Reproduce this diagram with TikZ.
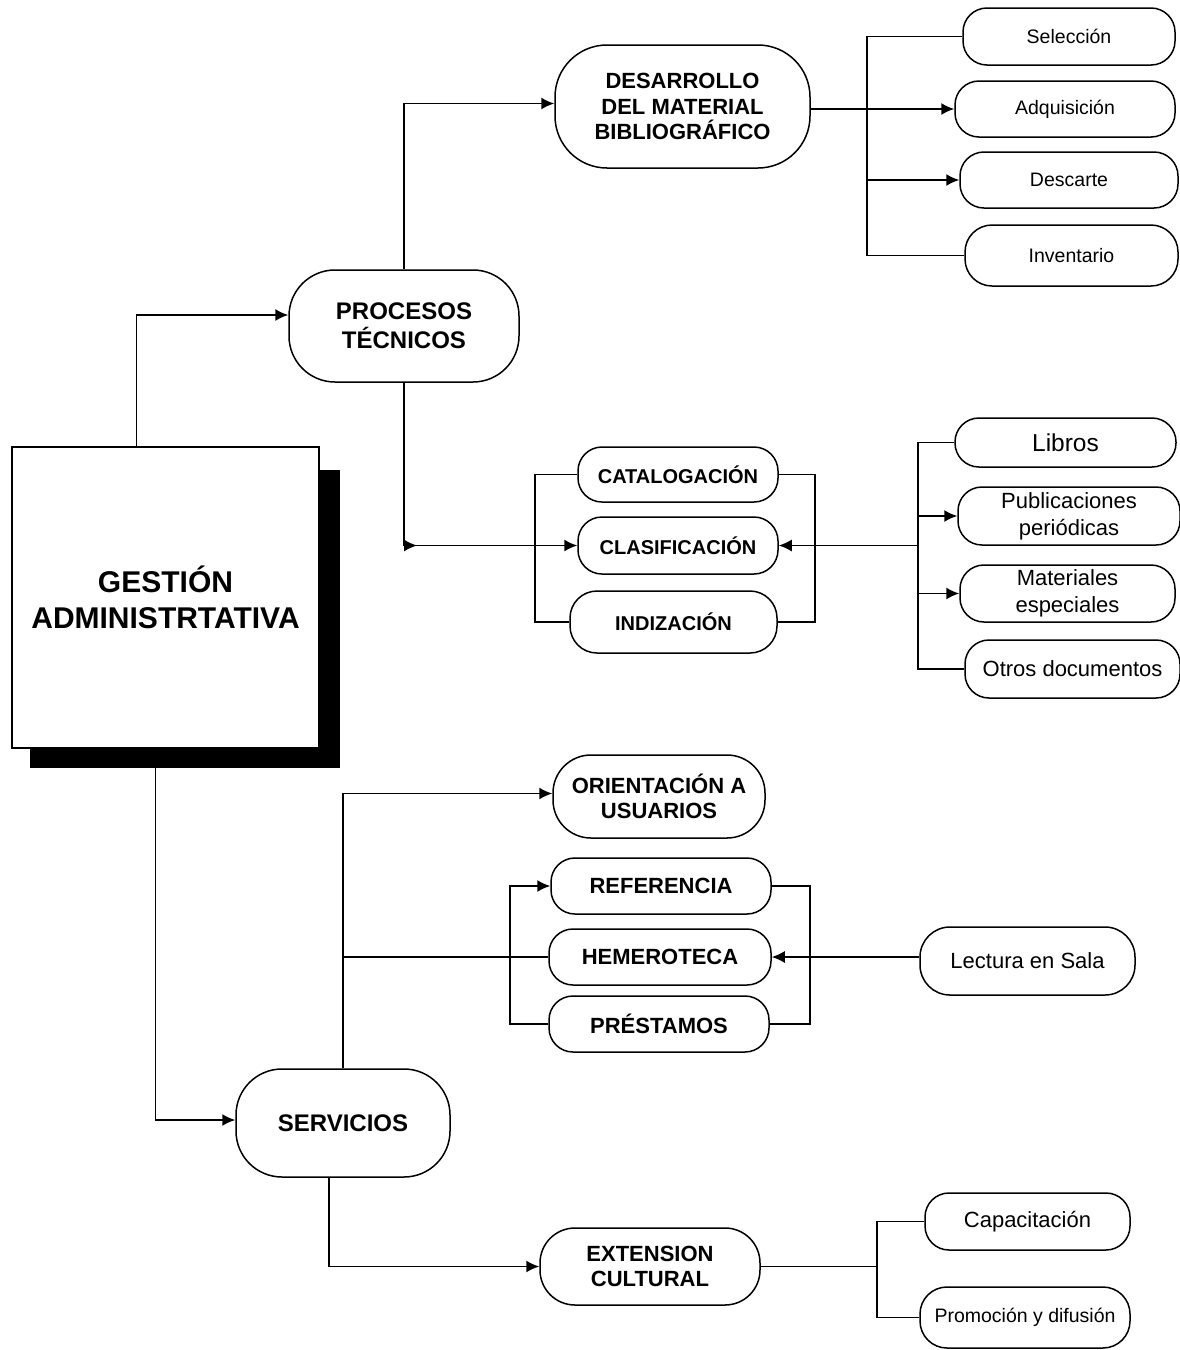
\documentclass[tikz,border=0pt]{standalone}
\usepackage{fontspec}
\setmainfont{Liberation Sans}
\usetikzlibrary{arrows.meta,calc}
\begin{document}
\begin{tikzpicture}[x=1pt,y=-1pt,
  line width=1.5pt,
  arr/.style={-{Latex[length=13pt,width=12pt]}},
  pill/.style={draw,line width=1.5pt,align=center,inner sep=0pt,rounded corners=24pt},
  bigpill/.style={pill,rounded corners=46pt},
  fB24/.style={font=\bfseries\fontsize{24}{29}\selectfont},
  fB22/.style={font=\bfseries\fontsize{22}{25.5}\selectfont},
  fB20/.style={font=\bfseries\fontsize{20}{24}\selectfont},
  fR19/.style={font=\fontsize{19.5}{24}\selectfont},
  fR22/.style={font=\fontsize{22}{27}\selectfont}
]
\useasboundingbox (0,0) rectangle (1180,1350);
% shadow and main box
\fill[black] (30,470) rectangle (340,768);
\node[draw,fill=white,line width=2.8pt,minimum width=307pt,minimum height=301pt,inner sep=0pt,align=center,
  font=\bfseries\fontsize{30}{36}\selectfont] (gestion) at (165.5,597.5) {GESTIÓN\\ADMINISTRTATIVA};

% top branch
\node[bigpill,fB24,minimum width=230pt,minimum height=112pt] (proc) at (404,326) {PROCESOS\\TÉCNICOS};
\node[bigpill,rounded corners=52pt,fB22,minimum width=255pt,minimum height=123pt] (desa) at (682.5,106.5) {DESARROLLO\\DEL MATERIAL\\BIBLIOGRÁFICO};
\node[pill,fR19,minimum width=212pt,minimum height=57pt] (sel) at (1069,36.5) {Selección};
\node[pill,fR19,minimum width=220pt,minimum height=56pt] (adq) at (1065,109) {Adquisición};
\node[pill,fR19,minimum width=218pt,minimum height=56pt] (des) at (1069,180) {Descarte};
\node[pill,fR19,minimum width=213pt,minimum height=61pt,rounded corners=27pt] (inv) at (1071.5,255.5) {Inventario};

\node[pill,fB20,minimum width=200pt,minimum height=55pt] (cat) at (678,474.5) {CATALOGACIÓN};
\node[pill,fB20,minimum width=200pt,minimum height=57pt] (cla) at (678,545.5) {CLASIFICACIÓN};
\node[pill,fB20,minimum width=207pt,minimum height=62pt,rounded corners=27pt] (ind) at (673.5,622) {INDIZACIÓN};

\node[pill,font=\fontsize{24.5}{28}\selectfont,minimum width=221pt,minimum height=49pt] (lib) at (1065.5,442.5) {Libros};
\node[pill,fR22,minimum width=222pt,minimum height=58pt] (pub) at (1069,516) {Publicaciones\\periódicas};
\node[pill,fR22,minimum width=215pt,minimum height=57pt] (mat) at (1067.5,593.5) {Materiales\\especiales};
\node[pill,fR22,minimum width=215pt,minimum height=58pt] (otr) at (1072.5,669) {Otros documentos};

% bottom branch
\node[bigpill,fB24,minimum width=214pt,minimum height=108pt] (serv) at (343,1123) {SERVICIOS};
\node[pill,rounded corners=38pt,fB22,minimum width=212pt,minimum height=83pt] (ori) at (659,796.5) {ORIENTACIÓN A\\USUARIOS};
\node[pill,fB22,minimum width=220pt,minimum height=56pt] (ref) at (661,886) {REFERENCIA};
\node[pill,fB22,minimum width=222pt,minimum height=56pt] (hem) at (660,957) {HEMEROTECA};
\node[pill,fB22,minimum width=220pt,minimum height=56pt] (pre) at (659,1024) {PRÉSTAMOS};
\node[pill,fR22,rounded corners=30pt,minimum width=215pt,minimum height=68pt] (lec) at (1027.5,961) {Lectura en Sala};

\node[pill,rounded corners=35pt,fB22,minimum width=220pt,minimum height=77pt] (ext) at (650,1266.5) {EXTENSION\\CULTURAL};
\node[pill,fR22,minimum width=205pt,minimum height=57pt] (cap) at (1027.5,1221.5) {Capacitación};
\node[pill,fR19,minimum width=210pt,minimum height=61pt,rounded corners=27pt] (pro) at (1025,1317.5) {Promoción y difusión};

% bus coordinates
\coordinate (b1) at (867,0);
\coordinate (b2) at (535,0);
\coordinate (b3) at (815,0);
\coordinate (b4) at (918,0);
\coordinate (b5) at (510,0);
\coordinate (b6) at (810,0);
\coordinate (b7) at (877,0);

% connectors
\draw[arr] ([xshift=126pt]gestion.north west) |- ([yshift=11pt]proc.west);
\draw[arr] (proc.north) |- ([yshift=3pt]desa.west);
\draw[arr] (desa.east |- adq.west) -- (adq.west);
\draw (sel.west) -| (b1 |- inv.west) -- (inv.west);
\draw[arr] (b1 |- des.west) -- (des.west);

\draw[arr] (proc.south) |- ($(proc.south |- cla.west)+(13,0)$);
\draw[arr] (proc.south |- cla.west) -- (cla.west);
\draw (cat.west) -| (b2 |- ind.west) -- (ind.west);
\draw (cat.east) -| (b3 |- ind.east) -- (ind.east);
\draw (lib.west) -| (b4 |- otr.west) -- (otr.west);
\draw[arr] (b4 |- pub.west) -- (pub.west);
\draw[arr] (b4 |- mat.west) -- (mat.west);
\draw[arr] (b4 |- cla.east) -- (cla.east);

\draw[arr] ([xshift=145pt]gestion.south west) |- ([yshift=3pt]serv.west);
\draw[arr] (serv.north) |- ([yshift=3pt]ori.west);
\draw (serv.north |- hem.west) -- (hem.west);
\draw[arr] (pre.west) -| (b5 |- ref.west) -- (ref.west);
\draw (ref.east) -| (b6 |- pre.east) -- (pre.east);
\draw[arr] (hem.east -| lec.west) -- (hem.east);

\draw[arr] ([xshift=-14pt]serv.south) |- (ext.west);
\draw (ext.east) -- (ext.east -| b7);
\draw (cap.west) -| (b7 |- pro.west) -- (pro.west);
\end{tikzpicture}
\end{document}
